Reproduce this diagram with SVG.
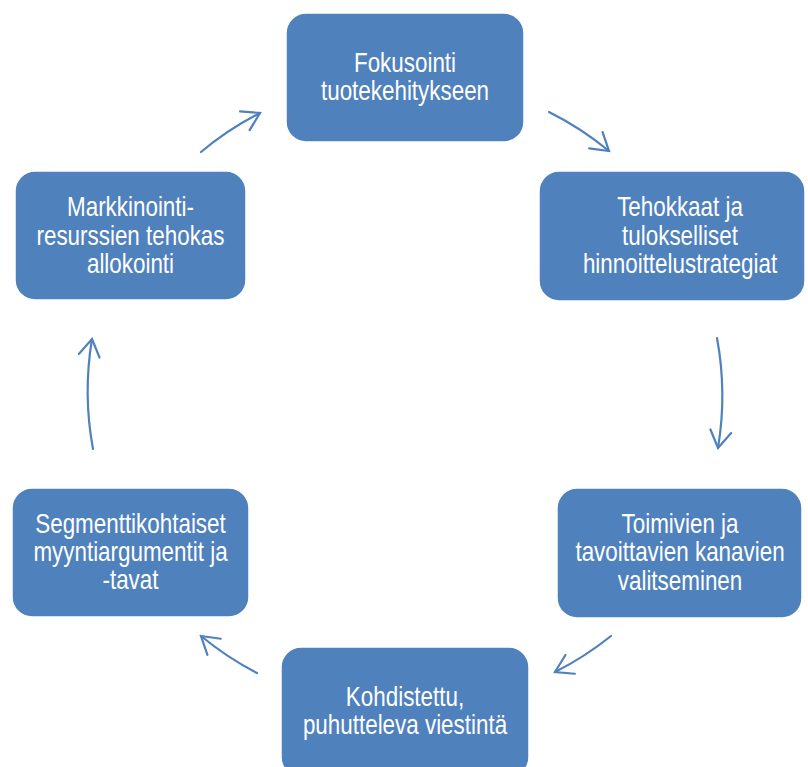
<svg xmlns="http://www.w3.org/2000/svg" width="808" height="767" viewBox="0 0 808 767">
  <style>
    .box { fill: #4F81BD; stroke: #ffffff; stroke-width: 1.5; }
    .lbl { fill: #ffffff; font-family: "Liberation Sans", Arial, sans-serif; font-size: 27px; text-anchor: middle; }
    .arc { fill: none; stroke: #4F81BD; stroke-width: 2.2; stroke-linecap: round; marker-end: url(#head); }
  </style>
  <defs>
    <marker id="head" markerUnits="userSpaceOnUse" markerWidth="30" markerHeight="30" viewBox="-20 -15 24 30" refX="0" refY="0" orient="auto">
      <path d="M -17 -10.5 L 0 0 L -17 10.5" fill="none" stroke="#4F81BD" stroke-width="2.2" stroke-linecap="round" stroke-linejoin="miter"/>
    </marker>
  </defs>
  <rect width="808" height="767" fill="#ffffff"/>

  <!-- clockwise arcs between the steps -->
  <g id="connectors">
    <path class="arc" d="M 549 112 A 317 317 0 0 1 609 151"/>
    <path class="arc" d="M 717 338 A 317 317 0 0 1 718 448"/>
    <path class="arc" d="M 611 636 A 317 317 0 0 1 555 672"/>
    <path class="arc" d="M 257 673 A 317 317 0 0 1 201 636"/>
    <path class="arc" d="M 93 449 A 317 317 0 0 1 92 339"/>
    <path class="arc" d="M 201 152 A 317 317 0 0 1 260 113"/>
  </g>

  <!-- labels are set in a condensed sans: horizontal scale about the centre line -->
  <g id="node-fokusointi">
    <rect class="box" x="286" y="13" width="238" height="129" rx="20"/>
    <text class="lbl" transform="translate(405 0) scale(0.83 1)"><tspan x="0" y="72">Fokusointi</tspan><tspan x="0" y="100.5">tuotekehitykseen</tspan></text>
  </g>

  <g id="node-hinnoittelu">
    <rect class="box" x="539" y="171" width="266" height="130" rx="20"/>
    <text class="lbl" transform="translate(680 0) scale(0.83 1)"><tspan x="0" y="216.5">Tehokkaat ja</tspan><tspan x="0" y="245">tulokselliset</tspan><tspan x="0" y="273.5">hinnoittelustrategiat</tspan></text>
  </g>

  <g id="node-kanavat">
    <rect class="box" x="557" y="488" width="245" height="130" rx="20"/>
    <text class="lbl" transform="translate(680 0) scale(0.83 1)"><tspan x="0" y="533">Toimivien ja</tspan><tspan x="0" y="561.5">tavoittavien kanavien</tspan><tspan x="0" y="590">valitseminen</tspan></text>
  </g>

  <g id="node-viestinta">
    <rect class="box" x="281" y="647" width="248" height="130" rx="20"/>
    <text class="lbl" transform="translate(405 0) scale(0.83 1)"><tspan x="0" y="706">Kohdistettu,</tspan><tspan x="0" y="734">puhutteleva viestintä</tspan></text>
  </g>

  <g id="node-segmentti">
    <rect class="box" x="12" y="488" width="237" height="129" rx="20"/>
    <text class="lbl" transform="translate(130.5 0) scale(0.83 1)"><tspan x="0" y="533">Segmenttikohtaiset</tspan><tspan x="0" y="561">myyntiargumentit ja</tspan><tspan x="0" y="589">-tavat</tspan></text>
  </g>

  <g id="node-resurssit">
    <rect class="box" x="15" y="171" width="231" height="129" rx="20"/>
    <text class="lbl" transform="translate(130.5 0) scale(0.83 1)"><tspan x="0" y="216.5">Markkinointi-</tspan><tspan x="0" y="245">resurssien tehokas</tspan><tspan x="0" y="273.5">allokointi</tspan></text>
  </g>
</svg>
